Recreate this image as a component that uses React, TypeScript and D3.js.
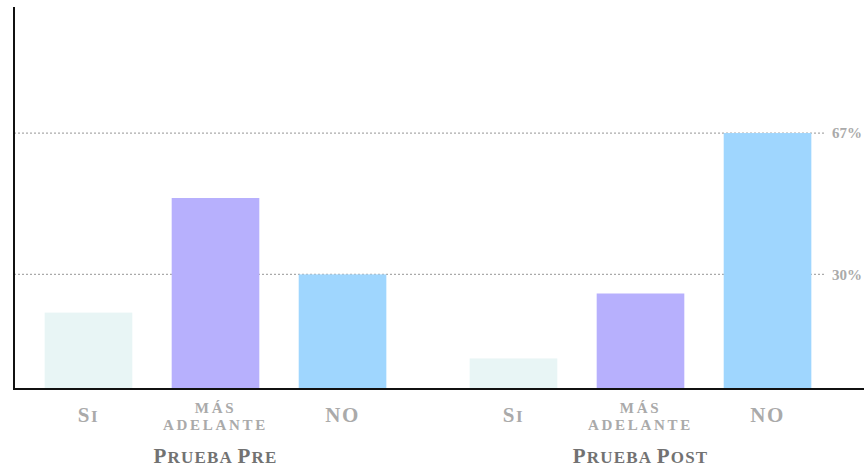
import React from "react";
import * as d3 from "d3";

const groups = ["Prueba Pre", "Prueba Post"];
const categories = ["Si", "más adelante", "NO"];
const categoryLines: Record<string, string[]> = {
  "Si": ["Si"],
  "más adelante": ["más", "adelante"],
  "NO": ["NO"],
};
const preValues = [20, 50, 30];
const postValues = [8, 25, 67];
const gridTicks = [30, 67];
const colors = ["#e8f5f5", "#b7b0fd", "#9fd6fe"];

const W = 864;
const H = 467;
const baseY = 389;
const topY = 7;
const axisX = 14;
const font = "'Liberation Serif', 'DejaVu Serif', serif";

// emulate small caps: uppercase letters big, lowercase letters as smaller capitals
function smallCaps(text: string, big: number, small: number) {
  const parts: { s: string; size: number }[] = [];
  for (const ch of text) {
    const isUpper = ch !== ch.toLowerCase();
    const size = isUpper ? big : small;
    const up = ch.toUpperCase();
    if (parts.length && parts[parts.length - 1].size === size) {
      parts[parts.length - 1].s += up;
    } else {
      parts.push({ s: up, size });
    }
  }
  return parts.map((p, i) => (
    <tspan key={i} fontSize={p.size}>
      {p.s}
    </tspan>
  ));
}

export default function App() {
  const y = d3.scaleLinear().domain([0, 100]).range([baseY, topY]);
  const x0 = d3.scaleBand<string>().domain(groups).range([3, 853]).padding(0);
  const x1 = d3
    .scaleBand<string>()
    .domain(categories)
    .range([0, x0.bandwidth()])
    .paddingInner(0.31)
    .paddingOuter(0.328);
  const series = [preValues, postValues];

  return (
    <svg
      width={W}
      height={H}
      style={{ position: "absolute", left: 0, top: 0, background: "#fff" }}
    >
      {gridTicks.map((t) => (
        <g key={t}>
          <line
            x1={axisX}
            x2={826}
            y1={y(t)}
            y2={y(t)}
            stroke="#aaa"
            strokeWidth={1.2}
            strokeDasharray="2,2"
          />
          <text
            x={832}
            y={y(t)}
            dy="0.35em"
            fontFamily={font}
            fontWeight="bold"
            fontSize={15}
            fill="#aaa"
          >
            {t}%
          </text>
        </g>
      ))}
      {groups.map((g, gi) => (
        <g key={g} transform={`translate(${x0(g)},0)`}>
          {categories.map((c, ci) => (
            <rect
              key={c}
              x={x1(c)}
              y={y(series[gi][ci])}
              width={x1.bandwidth()}
              height={baseY - y(series[gi][ci])}
              fill={colors[ci]}
            />
          ))}
          {categories.map((c) => {
            const lines = categoryLines[c];
            const cx = (x1(c) as number) + x1.bandwidth() / 2;
            if (lines.length === 1) {
              return (
                <text
                  key={c}
                  x={cx}
                  y={422}
                  textAnchor="middle"
                  fontFamily={font}
                  fontWeight="bold"
                  fill="#aaa"
                  letterSpacing={1.5}
                >
                  {smallCaps(lines[0], 21, 17)}
                </text>
              );
            }
            return lines.map((l, li) => (
              <text
                key={c + l}
                x={cx}
                y={412.5 + li * 17.5}
                textAnchor="middle"
                fontFamily={font}
                fontWeight="bold"
                fill="#aaa"
                letterSpacing={2.7}
              >
                {smallCaps(l, 15, 15)}
              </text>
            ));
          })}
          <text
            x={x0.bandwidth() / 2}
            y={463}
            textAnchor="middle"
            fontFamily={font}
            fontWeight="bold"
            fill="#727272"
            letterSpacing={1.2}
          >
            {smallCaps(g, 21, 17)}
          </text>
        </g>
      ))}
      <line x1={axisX} x2={W} y1={baseY} y2={baseY} stroke="#111" strokeWidth={2} />
      <line x1={axisX} x2={axisX} y1={topY} y2={baseY + 1} stroke="#111" strokeWidth={2} />
    </svg>
  );
}
